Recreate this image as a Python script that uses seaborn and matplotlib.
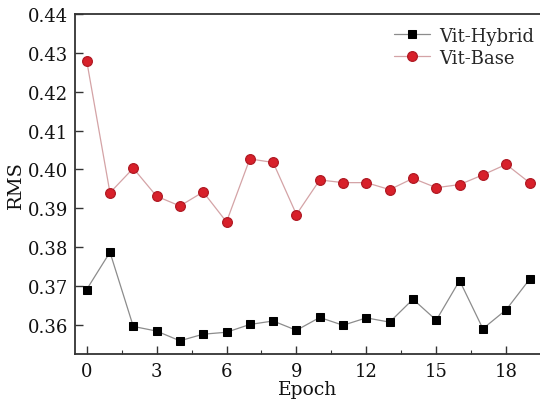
import numpy as np
import pandas as pd
import matplotlib
matplotlib.use("Agg")
import matplotlib.pyplot as plt
import seaborn as sns
from matplotlib.ticker import MultipleLocator

epochs = list(range(20))
vit_hybrid = [0.3691, 0.3787, 0.3596, 0.3584, 0.3559, 0.3576, 0.3581, 0.3601, 0.3610, 0.3586,
              0.3619, 0.3599, 0.3618, 0.3607, 0.3666, 0.3612, 0.3714, 0.3590, 0.3639, 0.3717]
vit_base = [0.4280, 0.3940, 0.4003, 0.3931, 0.3906, 0.3942, 0.3865, 0.4027, 0.4018, 0.3884,
            0.3973, 0.3966, 0.3966, 0.3948, 0.3977, 0.3953, 0.3961, 0.3986, 0.4013, 0.3966]
series_names = ["Vit-Hybrid", "Vit-Base"]
yticks = [0.36, 0.37, 0.38, 0.39, 0.40, 0.41, 0.42, 0.43, 0.44]
xticks = [0, 3, 6, 9, 12, 15, 18]

df = pd.DataFrame({
    "Epoch": epochs * 2,
    "RMS": vit_hybrid + vit_base,
    "Model": [series_names[0]] * 20 + [series_names[1]] * 20,
})

sns.set_style("ticks")
plt.rcParams["font.family"] = ["DejaVu Serif"]

fig = plt.figure(figsize=(5.4, 4.02), dpi=100)
ax = fig.add_axes([0.1389, 0.1169, 0.8611, 0.8458])

sns.lineplot(data=df[df.Model == series_names[0]], x="Epoch", y="RMS", ax=ax,
             color="#8c8c8c", lw=0.9, marker="s", markersize=6,
             markerfacecolor="black", markeredgecolor="black", label=series_names[0])
sns.lineplot(data=df[df.Model == series_names[1]], x="Epoch", y="RMS", ax=ax,
             color="#d4a3a6", lw=0.9, marker="o", markersize=7,
             markerfacecolor="#d8202a", markeredgecolor="#b01a24", markeredgewidth=0.9,
             label=series_names[1])

ax.set_xlim(-0.5, 19.45)
ax.set_ylim(0.3525, 0.44)
ax.set_xticks(xticks)
ax.set_yticks(yticks)
ax.set_yticklabels([f"{v:.2f}" for v in yticks])
ax.xaxis.set_minor_locator(MultipleLocator(1.5))
ax.tick_params(axis="both", which="major", direction="in", length=6, width=1.0,
               labelsize=13, colors="#333333", labelcolor="#111111")
ax.tick_params(axis="x", which="minor", direction="in", length=3, width=0.8, colors="#333333")
ax.tick_params(axis="x", pad=6)
ax.tick_params(axis="y", pad=5)
ax.set_xlabel("Epoch", fontsize=13.5, labelpad=0, color="#111111")
ax.set_ylabel("RMS", fontsize=14, labelpad=2, color="#111111")
for s in ["left", "bottom", "top"]:
    ax.spines[s].set_color("#333333")
    ax.spines[s].set_linewidth(1.3)
ax.spines["right"].set_visible(False)

leg = ax.legend(loc="upper right", bbox_to_anchor=(1.015, 1.0), frameon=False, fontsize=13,
                handlelength=2.0, handletextpad=0.5, labelspacing=0.22, borderaxespad=0.3)

fig.savefig("out.png", dpi=100)
